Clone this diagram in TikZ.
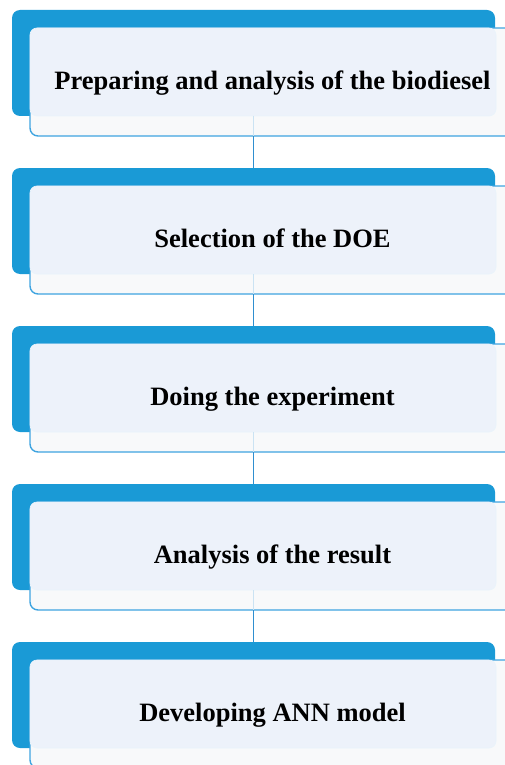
\documentclass[tikz,border=0pt]{standalone}
\usepackage{fontspec}
\setmainfont{Liberation Serif}
\usepackage{tikz}
\usetikzlibrary{positioning}
\definecolor{stepblue}{HTML}{1A9AD6}
\definecolor{lineblue}{HTML}{3FA4E0}
\definecolor{linkblue}{HTML}{2F8FD0}
\definecolor{facebg}{HTML}{EDF2FA}
\definecolor{framebg}{HTML}{F8F9FA}

\begin{document}
\begin{tikzpicture}[
  x=1pt, y=1pt,
  back/.style={fill=stepblue, rounded corners=8pt, inner sep=0pt, outer sep=0pt,
               minimum width=483pt, minimum height=106pt},
  frame/.style={draw=lineblue, fill=framebg, line width=1.4pt,
                rounded corners=8pt, inner sep=0pt, outer sep=0pt,
                minimum width=485pt, minimum height=108pt},
  face/.style={draw=facebg!80!lineblue!40, fill=facebg, line width=0.6pt,
               rounded corners=7pt, inner sep=0pt, outer sep=0pt,
               minimum width=466pt, minimum height=88pt},
  steptext/.style={font=\bfseries\fontsize{26.5pt}{30pt}\selectfont, text=black,
                   text height=18pt, text depth=5pt, inner sep=0pt, yshift=-1pt},
  joinline/.style={draw=linkblue, line width=1.6pt},
  faintline/.style={draw=linkblue!25, line width=1.6pt}
]
  \useasboundingbox (0,0) rectangle (505,-765);

  % Step 1
  \node[back, anchor=north west] (back1) at (12,-10) {};
  \node[frame, below right=18pt and 18pt of back1.north west] (frame1) {};
  \node[face, below right=18pt and 18pt of back1.north west] (face1) {};
  \node[steptext] (text1) at (frame1.center) {Preparing and analysis of the biodiesel};

  % Step 2
  \node[back, below=32pt of frame1.south west, anchor=north west, xshift=-18pt] (back2) {};
  \node[frame, below right=18pt and 18pt of back2.north west] (frame2) {};
  \node[face, below right=18pt and 18pt of back2.north west] (face2) {};
  \node[steptext] (text2) at (frame2.center) {Selection of the DOE};

  % Step 3
  \node[back, below=32pt of frame2.south west, anchor=north west, xshift=-18pt] (back3) {};
  \node[frame, below right=18pt and 18pt of back3.north west] (frame3) {};
  \node[face, below right=18pt and 18pt of back3.north west] (face3) {};
  \node[steptext] (text3) at (frame3.center) {Doing the experiment};

  % Step 4
  \node[back, below=32pt of frame3.south west, anchor=north west, xshift=-18pt] (back4) {};
  \node[frame, below right=18pt and 18pt of back4.north west] (frame4) {};
  \node[face, below right=18pt and 18pt of back4.north west] (face4) {};
  \node[steptext] (text4) at (frame4.center) {Analysis of the result};

  % Step 5
  \node[back, below=32pt of frame4.south west, anchor=north west, xshift=-18pt] (back5) {};
  \node[frame, below right=18pt and 18pt of back5.north west] (frame5) {};
  \node[face, below right=18pt and 18pt of back5.north west] (face5) {};
  \node[steptext] (text5) at (frame5.center) {Developing ANN model};

  % Links
  \draw[faintline] (back1.south) -- (frame1.south -| back1.south);
  \draw[faintline] (back2.south) -- (frame2.south -| back2.south);
  \draw[faintline] (back3.south) -- (frame3.south -| back3.south);
  \draw[faintline] (back4.south) -- (frame4.south -| back4.south);
  \draw[joinline] (frame1.south -| back1.south) -- (back2.north);
  \draw[joinline] (frame2.south -| back2.south) -- (back3.north);
  \draw[joinline] (frame3.south -| back3.south) -- (back4.north);
  \draw[joinline] (frame4.south -| back4.south) -- (back5.north);
\end{tikzpicture}
\end{document}
